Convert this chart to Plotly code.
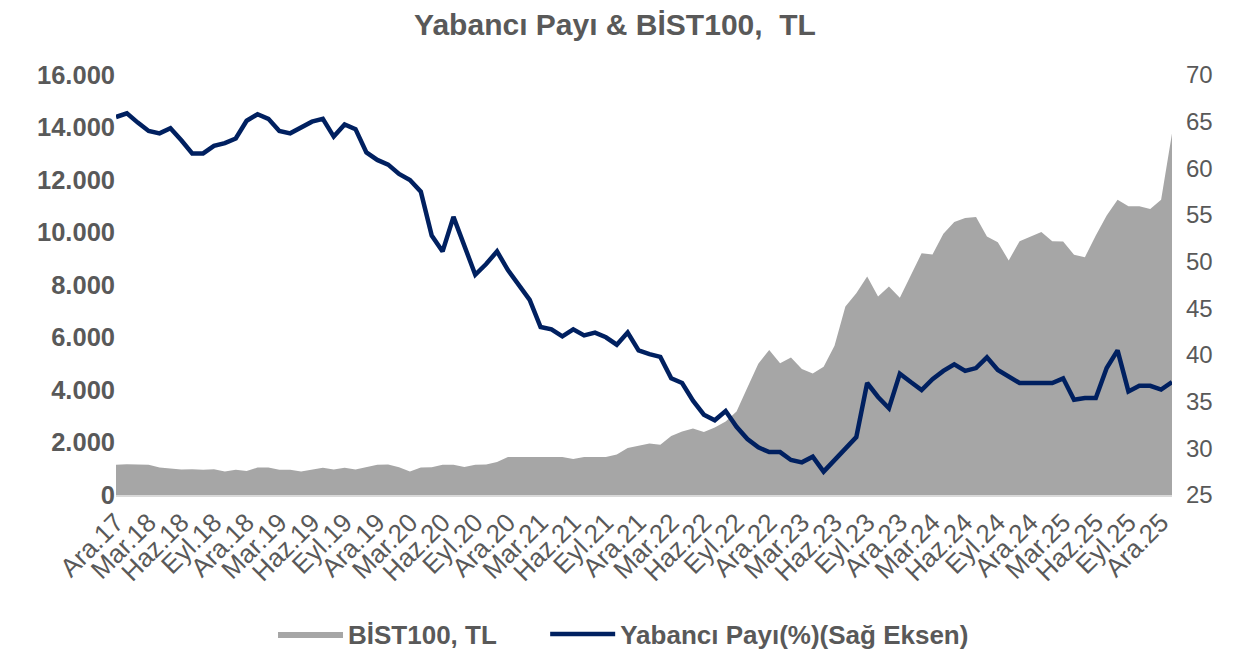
import plotly.graph_objects as go

# ---- data ----
month_abbr = ["Oca", "Şub", "Mar", "Nis", "May", "Haz", "Tem", "Ağu", "Eyl", "Eki", "Kas", "Ara"]
months = ["Ara.17"] + [f"{m}.{y}" for y in range(18, 26) for m in month_abbr] + ["Oca.26"]

bist100 = [
    1150, 1170, 1160, 1150, 1050, 1000, 970, 980, 960, 980, 900, 960,
    910, 1050, 1050, 960, 960, 900, 970, 1040, 970, 1040, 970, 1060,
    1150, 1160, 1060, 900, 1050, 1060, 1150, 1150, 1070, 1150, 1160, 1260,
    1450, 1450, 1460, 1450, 1450, 1450, 1370, 1450, 1450, 1450, 1540, 1790,
    1880, 1960, 1910, 2250, 2420, 2530, 2400, 2570, 2800, 3180, 4100, 5000,
    5520, 5015, 5240, 4800, 4630, 4890, 5690, 7180, 7690, 8320, 7560, 7940,
    7510, 8360, 9210, 9160, 9950, 10400, 10550, 10590, 9850, 9630, 8935, 9670,
    9850, 10020, 9670, 9660, 9150, 9060, 9890, 10650, 11250, 11000, 11000, 10900,
    11250, 13770,
]

yabanci_payi = [
    65.5, 65.9, 64.9, 64.0, 63.75, 64.3, 63.0, 61.6, 61.6, 62.4, 62.7, 63.2,
    65.1, 65.8, 65.3, 64.0, 63.75, 64.4, 65.0, 65.3, 63.4, 64.7, 64.2, 61.7,
    60.9, 60.4, 59.4, 58.75, 57.5, 52.8, 51.1, 54.8, 51.8, 48.6, 49.75, 51.1,
    49.1, 47.5, 45.9, 43.0, 42.75, 42.0, 42.75, 42.1, 42.4, 41.9, 41.1, 42.4,
    40.5, 40.1, 39.8, 37.5, 37.0, 35.1, 33.6, 33.0, 34.0, 32.3, 31.0, 30.1,
    29.6, 29.6, 28.75, 28.5, 29.1, 27.5, 28.7, 30.0, 31.2, 37.0, 35.5, 34.3,
    38.0, 37.1, 36.25, 37.4, 38.3, 39.0, 38.3, 38.6, 39.75, 38.4, 37.7, 37.0,
    37.0, 37.0, 37.0, 37.5, 35.2, 35.4, 35.4, 38.6, 40.5, 36.1, 36.7, 36.7,
    36.3, 37.1,
]

tick_labels = months[0:97:3]
left_ticks = [0, 2000, 4000, 6000, 8000, 10000, 12000, 14000, 16000]
right_ticks = [25, 30, 35, 40, 45, 50, 55, 60, 65, 70]

TXT = "#595959"
FONT = "Liberation Sans, Arial, sans-serif"
NB = "\u00a0"

W, H = 1234, 651

fig = go.Figure()
fig.add_trace(go.Scatter(
    x=months, y=bist100, name="BİST100, TL" + NB * 6,
    mode="lines", fill="tozeroy", fillcolor="#A6A6A6",
    line=dict(color="#A6A6A6", width=0), yaxis="y",
))
fig.add_trace(go.Scatter(
    x=months, y=yabanci_payi, name="Yabancı Payı(%)(Sağ Eksen)",
    mode="lines", line=dict(color="#002060", width=4.5), yaxis="y2",
))

fig.update_layout(
    width=W, height=H, autosize=False,
    margin=dict(l=108, r=70, t=67, b=164, autoexpand=False),
    paper_bgcolor="white", plot_bgcolor="white",
    separators=",.",
    title=dict(
        text="Yabancı Payı & BİST100," + NB + " TL",
        font=dict(family=FONT, size=30, color=TXT, weight="bold"),
        x=607 / W, xref="container", xanchor="center",
        y=1 - 16 / H, yref="container", yanchor="middle",
    ),
    xaxis=dict(
        type="category", range=[0, len(months) - 1], automargin=False,
        tickmode="array", tickvals=tick_labels, ticktext=tick_labels,
        tickangle=-45, tickfont=dict(family=FONT, size=26, color=TXT),
        showgrid=False, zeroline=False, showline=True,
        linecolor="#D9D9D9", linewidth=2, ticks="",
    ),
    yaxis=dict(
        range=[0, 16000], tickvals=left_ticks, tickformat=",.0f", automargin=False,
        tickfont=dict(family=FONT, size=25.5, color=TXT, weight="bold"),
        showgrid=False, zeroline=False, showline=False, ticks="",
    ),
    yaxis2=dict(
        range=[25, 70], tickvals=right_ticks, overlaying="y", side="right",
        automargin=False, ticklabelstandoff=13,
        tickfont=dict(family=FONT, size=24, color=TXT),
        showgrid=False, zeroline=False, showline=False, ticks="",
    ),
    legend=dict(
        orientation="h", x=0.4806, xanchor="center",
        y=(487 - 626) / 420, yanchor="middle",
        font=dict(family=FONT, size=26, color=TXT, weight="bold"),
        itemwidth=65, traceorder="normal",
    ),
    showlegend=True,
)

fig.write_html("out.html")
